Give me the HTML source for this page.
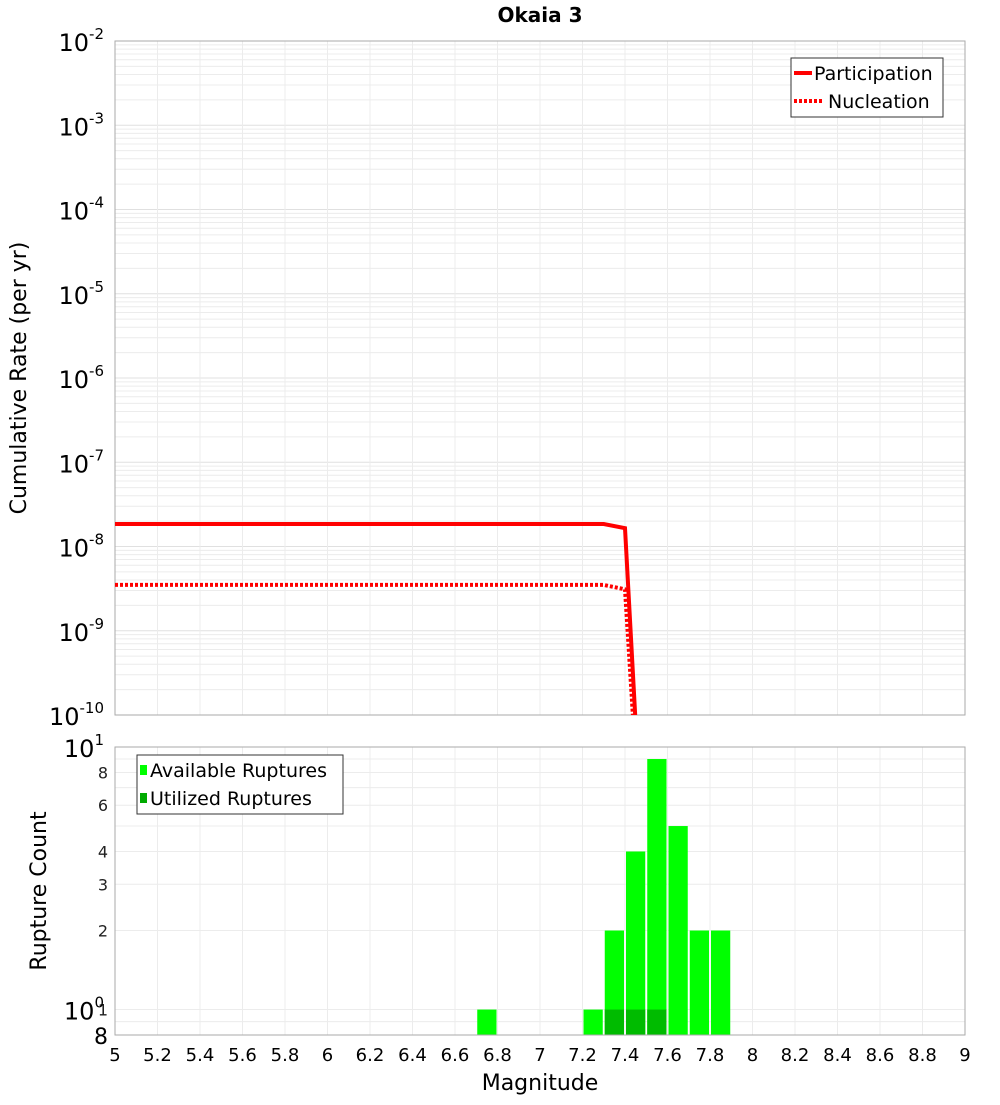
<!DOCTYPE html>
<html><head><meta charset="utf-8">
<style>
body{margin:0;background:#fff;width:1000px;height:1100px;overflow:hidden;font-family:"Liberation Sans","DejaVu Sans",sans-serif;}
svg text{font-family:"DejaVu Sans","Liberation Sans",sans-serif;}
</style></head>
<body>
<svg id="chart" width="1000" height="1100" xmlns="http://www.w3.org/2000/svg">
<text x="540" y="22" text-anchor="middle" font-size="20" font-weight="bold">Okaia 3</text>
<g id="topPlot"></g>
<g id="botPlot"></g>
<text transform="translate(26,378) rotate(-90)" text-anchor="middle" font-size="22">Cumulative Rate (per yr)</text>
<text transform="translate(46,891) rotate(-90)" text-anchor="middle" font-size="22">Rupture Count</text>
<text x="540" y="1090" text-anchor="middle" font-size="22">Magnitude</text>
</svg>
<script>
const partMags=[5.0,7.3,7.4,7.45];
const partRates=[1.85e-8,1.85e-8,1.65e-8,8e-11];
const nuclMags=[5.0,7.3,7.4,7.45];
const nuclRates=[3.5e-9,3.5e-9,3.1e-9,3e-11];
const binMags=[6.75,7.25,7.35,7.45,7.55,7.65,7.75,7.85];
const availCounts=[1,1,2,4,9,5,2,2];
const usedCounts=[0,0,1,1,1,0,0,0];
const xTicks=[5,5.2,5.4,5.6,5.8,6,6.2,6.4,6.6,6.8,7,7.2,7.4,7.6,7.8,8,8.2,8.4,8.6,8.8,9];
const topExps=[-2,-3,-4,-5,-6,-7,-8,-9,-10];
const botTicks=[1,2,3,4,6,8];

const NS="http://www.w3.org/2000/svg";
const L=115,R=965,T1=41,B1=715,T2=747,B2=1035;
const X=m=>L+(m-5)/4*(R-L);
const Y1=v=>T1+(-2-Math.log10(v))/8*(B1-T1);
const Y2=v=>B2-(Math.log10(v)-Math.log10(0.8))/(1-Math.log10(0.8))*(B2-T2);
function mk(p,tag,at,txt){const e=document.createElementNS(NS,tag);for(const k in at)e.setAttribute(k,at[k]);if(txt!=null)e.textContent=txt;p.appendChild(e);return e;}
const topG=document.getElementById('topPlot'),botG=document.getElementById('botPlot');
const svgEl=document.getElementById('chart');
const defs=mk(svgEl,'defs',{});
const c1=mk(defs,'clipPath',{id:'c1'});mk(c1,'rect',{x:L,y:T1,width:R-L,height:B1-T1});

for(let e=-10;e<-2;e++){for(let k=1;k<10;k++){const y=Y1(k*Math.pow(10,e));
const g=mk(topG,'line',{x1:L,x2:R,y1:y,y2:y,stroke:k==1?'#e0e0e0':'#ececec','stroke-width':1});

}}
xTicks.forEach(t=>{const g=mk(topG,'line',{x1:X(t),x2:X(t),y1:T1,y2:B1,stroke:'#ececec'});

});
mk(topG,'rect',{x:L,y:T1,width:R-L,height:B1-T1,fill:'none',stroke:'#aaa'});
topExps.forEach(e=>{const y=Y1(Math.pow(10,e));
const t=mk(topG,'text',{x:104,y:y+10,'text-anchor':'end','font-size':24});


mk(t,'tspan',{},'10');mk(t,'tspan',{dy:-12,'font-size':15},String(e));});
function line(m,v,dash,name){const pts=m.map((mm,i)=>X(mm)+','+Y1(v[i])).join(' ');
const p=mk(topG,'polyline',{points:pts,fill:'none',stroke:'#f00','stroke-width':4,'clip-path':'url(#c1)'});
if(dash)p.setAttribute('stroke-dasharray','3,2');

}
line(partMags,partRates,false,'participation-line');
line(nuclMags,nuclRates,true,'nucleation-line');
const lg=mk(topG,'g',{});


mk(lg,'rect',{x:791,y:58,width:152,height:59,fill:'#fff',stroke:'#333'});
mk(lg,'line',{x1:794,x2:812,y1:73,y2:73,stroke:'#f00','stroke-width':4});
mk(lg,'text',{x:814,y:80,'font-size':19},'Participation');
mk(lg,'line',{x1:794,x2:822,y1:101,y2:101,stroke:'#f00','stroke-width':4,'stroke-dasharray':'3,2'});
mk(lg,'text',{x:828,y:108,'font-size':19},'Nucleation');

[0.9,1,2,3,4,5,6,7,8,9].forEach(v=>{const y=Y2(v);const g=mk(botG,'line',{x1:L,x2:R,y1:y,y2:y,stroke:'#ececec'});

});
xTicks.forEach(t=>{const g=mk(botG,'line',{x1:X(t),x2:X(t),y1:T2,y2:B2,stroke:'#ececec'});

});
const bw=X(5.1)-X(5);
binMags.forEach((m,i)=>{const x0=X(m-0.05)+1,w=bw-2;
const y=Y2(availCounts[i]);
const r=mk(botG,'rect',{x:x0,y:y,width:w,height:B2-y,fill:'#00ff00'});


if(usedCounts[i]>0){const yu=Y2(usedCounts[i]);
const u=mk(botG,'rect',{x:x0,y:yu,width:w,height:B2-yu,fill:'#00bb00'});

}});
mk(botG,'rect',{x:L,y:T2,width:R-L,height:B2-T2,fill:'none',stroke:'#aaa'});
botTicks.forEach(v=>{const t=mk(botG,'text',{x:108,y:Y2(v)+6,'text-anchor':'end','font-size':16,fill:'#222'},String(v));

});
[[10,'1'],[1,'0']].forEach(([v,e])=>{const t=mk(botG,'text',{x:104,y:Y2(v)+10,'text-anchor':'end','font-size':24});


mk(t,'tspan',{},'10');mk(t,'tspan',{dy:-12,'font-size':15},e);});
const t8=mk(botG,'text',{x:108,y:B2+9,'text-anchor':'end','font-size':22},'8');


xTicks.forEach(t=>{const e=mk(botG,'text',{x:X(t),y:1061,'text-anchor':'middle','font-size':18},String(t));

});
const lg2=mk(botG,'g',{});


mk(lg2,'rect',{x:137,y:755,width:206,height:59,fill:'#fff',stroke:'#333'});
mk(lg2,'rect',{x:140,y:765,width:7,height:10,fill:'#00ff00'});
mk(lg2,'text',{x:150,y:777,'font-size':19},'Available Ruptures');
mk(lg2,'rect',{x:140,y:793,width:7,height:10,fill:'#00aa00'});
mk(lg2,'text',{x:150,y:805,'font-size':19},'Utilized Ruptures');
</script>
</body></html>
